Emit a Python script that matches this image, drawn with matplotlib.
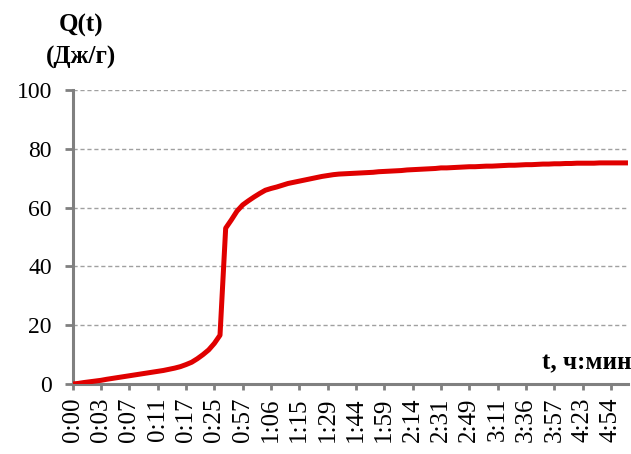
import matplotlib
matplotlib.use("Agg")
import matplotlib.pyplot as plt

# tick labels of the time axis (one label every 5 readings)
time_labels = ["0:00", "0:03", "0:07", "0:11", "0:17", "0:25", "0:57", "1:06", "1:15", "1:29",
               "1:44", "1:59", "2:14", "2:31", "2:49", "3:11", "3:36", "3:57", "4:23", "4:54"]
label_step = 5

# heat released Q(t), J/g
heat = [0.0, 0.2, 0.5, 0.75, 1.0, 1.25, 1.6, 1.9, 2.2, 2.5,
        2.8, 3.1, 3.4, 3.7, 4.0, 4.3, 4.6, 5.0, 5.4, 5.9,
        6.6, 7.4, 8.6, 10.0, 11.6, 13.8, 16.6, 53.0, 55.8, 58.8,
        60.9, 62.3, 63.6, 64.8, 65.9, 66.5, 67.0, 67.6, 68.2, 68.6,
        69.0, 69.4, 69.8, 70.2, 70.6, 70.9, 71.2, 71.4, 71.5, 71.6,
        71.7, 71.8, 71.9, 72.0, 72.2, 72.3, 72.4, 72.5, 72.6, 72.8,
        72.9, 73.0, 73.1, 73.2, 73.3, 73.5, 73.5, 73.6, 73.7, 73.8,
        73.9, 73.9, 74.0, 74.1, 74.1, 74.2, 74.3, 74.4, 74.4, 74.5,
        74.6, 74.6, 74.7, 74.8, 74.8, 74.9, 74.9, 75.0, 75.0, 75.1,
        75.1, 75.1, 75.1, 75.2, 75.2, 75.2, 75.2, 75.2, 75.2]

y_ticks = [0, 20, 40, 60, 80, 100]

plt.rcParams['font.family'] = ['Liberation Serif', 'DejaVu Serif']

fig = plt.figure(figsize=(6.31, 4.54), dpi=100)
ax = fig.add_axes([0.1152, 0.1542, 0.88, 0.6476])

x = list(range(len(heat)))
ax.plot(x, heat, color='#e00000', linewidth=3.6, solid_capstyle='butt', zorder=3)

ax.set_xlim(0, len(heat) - 1)
ax.set_ylim(0, 100)

ax.set_yticks(y_ticks)
ax.set_yticklabels([str(v) for v in y_ticks], fontsize=17)
ax.set_xticks(range(0, len(time_labels) * label_step, label_step))
ax.set_xticklabels(time_labels, rotation=90, fontsize=18)

ax.yaxis.grid(True, color='#a0a0a0', linestyle=(0, (3, 2)), linewidth=1.0)
ax.set_axisbelow(True)

for side in ['top', 'right']:
    ax.spines[side].set_visible(False)
for side in ['left', 'bottom']:
    ax.spines[side].set_color('#808080')
    ax.spines[side].set_linewidth(2.2)
ax.tick_params(axis='both', colors='#808080', width=2, labelcolor='black')
ax.tick_params(axis='x', length=4.5, pad=5)
ax.tick_params(axis='y', length=6, pad=9)

fig.text(0.128, 0.945, "Q(t)", fontsize=18, fontweight='bold', ha='center', va='center')
fig.text(0.128, 0.874, "(Дж/г)", fontsize=18, fontweight='bold', ha='center', va='center')
fig.text(1.0, 0.2, "t, ч:мин", fontsize=18, fontweight='bold', ha='right', va='center')

fig.savefig("out.png", dpi=100)
